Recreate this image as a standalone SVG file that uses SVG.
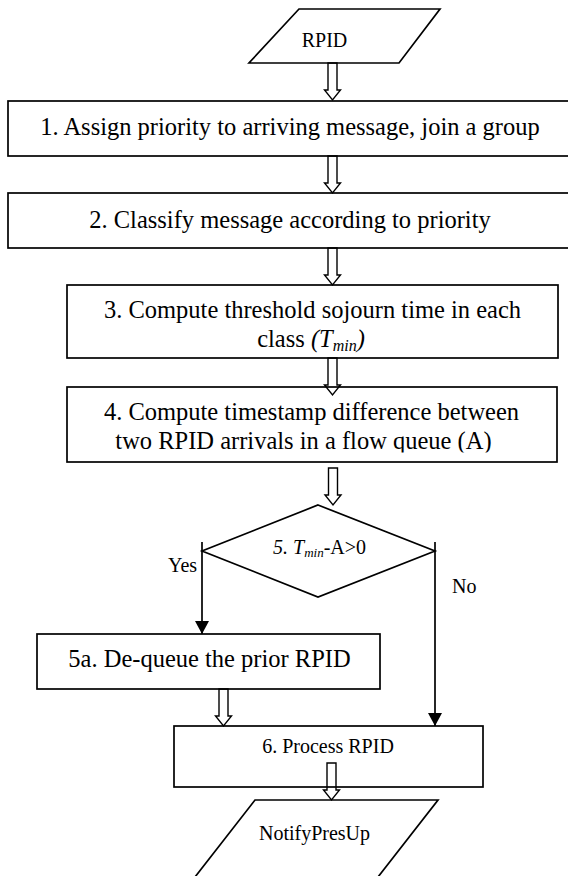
<svg xmlns="http://www.w3.org/2000/svg" xmlns:xlink="http://www.w3.org/1999/xlink" width="568" height="876" viewBox="0 0 568 876">
<style>
.shape{fill:none;stroke:#000;stroke-width:1.7}
.t{font-family:"Liberation Serif","Times New Roman",serif;fill:#000}
.big{font-size:24.5px}
.small{font-size:20px}
.it{font-style:italic}
.line{fill:none;stroke:#000;stroke-width:1.7}
</style>
<defs>
<path id="harrow" d="M-4.5,0 V27 H-8 L0,37 L8,27 H4.5 V0 Z" fill="#fff" stroke="#000" stroke-width="1.4"/>
<marker id="ah" markerUnits="userSpaceOnUse" markerWidth="14" markerHeight="14" viewBox="0 0 12 13" refX="12" refY="6.5" orient="auto">
<path d="M0,0 L12,6.5 L0,13 Z" fill="#000"/>
</marker>
<clipPath id="clip4"><rect x="60" y="380" width="500" height="72.5"/></clipPath>
</defs>
<rect width="568" height="876" fill="#fff"/>
<g id="connectors">
<use xlink:href="#harrow" x="332.5" y="63"/>
<use xlink:href="#harrow" x="332.5" y="156"/>
<use xlink:href="#harrow" x="332.5" y="248"/>
<use xlink:href="#harrow" x="332.5" y="358"/>
<use xlink:href="#harrow" x="333" y="468"/>
<use xlink:href="#harrow" x="223.5" y="689"/>
<use xlink:href="#harrow" x="331.5" y="763"/>
<path class="line" d="M202,542 V634" marker-end="url(#ah)"/>
<path class="line" d="M435,542 V726" marker-end="url(#ah)"/>
<text class="t small" x="168" y="572">Yes</text>
<text class="t small" x="452" y="593">No</text>
</g>
<g id="rpid">
<polygon class="shape" points="299,9 440,9 399,63 249,63"/>
<text class="t small" x="324.5" y="47" text-anchor="middle">RPID</text>
</g>
<g id="step1">
<rect class="shape" x="8" y="101" width="580" height="55"/>
<text class="t big" x="290" y="135" text-anchor="middle">1. Assign priority to arriving message, join a group</text>
</g>
<g id="step2">
<rect class="shape" x="8" y="193" width="580" height="55"/>
<text class="t big" x="290" y="228" text-anchor="middle">2. Classify message according to priority</text>
</g>
<g id="step3">
<rect class="shape" x="67" y="285" width="491" height="73"/>
<text class="t big" x="312.5" y="318" text-anchor="middle">3. Compute threshold sojourn time in each</text>
<text class="t big" x="311" y="347" text-anchor="middle">class <tspan class="it">(T</tspan><tspan class="it" font-size="16" dy="4">min</tspan><tspan class="it" dy="-4">)</tspan></text>
</g>
<g id="step4">
<rect class="shape" x="67" y="387" width="490" height="75"/>
<g clip-path="url(#clip4)">
<text class="t big" x="311.5" y="420" text-anchor="middle">4. Compute timestamp difference between</text>
<text class="t big" x="303.5" y="449" text-anchor="middle">two RPID arrivals in a flow queue (A)</text>
</g>
</g>
<g id="step5">
<polygon class="shape" points="318,505 435,551 318,597 202,551"/>
<text class="t small" x="273" y="554"><tspan class="it">5. T</tspan><tspan class="it" font-size="13" dy="3">min</tspan><tspan dy="-3">-A&gt;0</tspan></text>
</g>
<g id="step5a">
<rect class="shape" x="37" y="634" width="343" height="55"/>
<text class="t big" x="209.5" y="667" text-anchor="middle">5a. De-queue the prior RPID</text>
</g>
<g id="step6">
<rect class="shape" x="174" y="726" width="309" height="61"/>
<text class="t small" x="328" y="753" text-anchor="middle">6. Process RPID</text>
</g>
<g id="notify">
<polygon class="shape" points="255,800 438,800 378,877 195,877"/>
<text class="t small" x="314.5" y="840" text-anchor="middle">NotifyPresUp</text>
</g>
</svg>
